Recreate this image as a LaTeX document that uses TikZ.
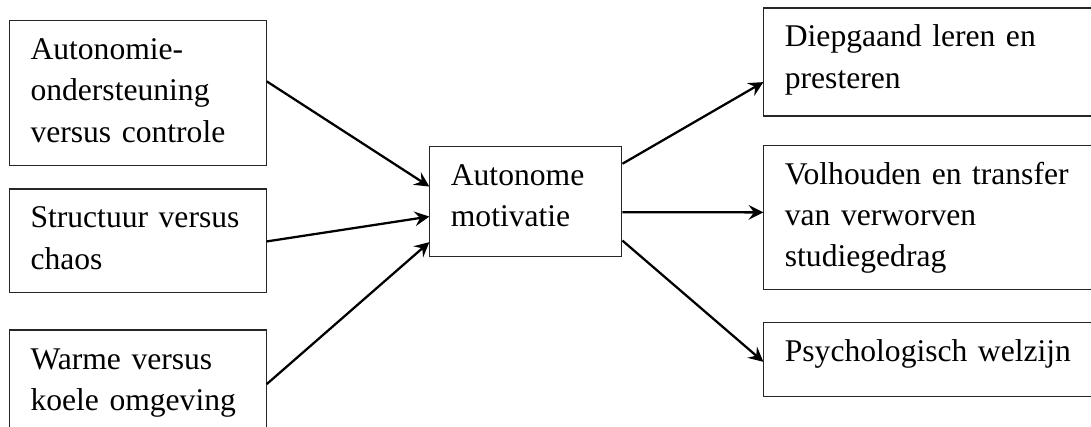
\documentclass[tikz,border=0pt]{standalone}
\usepackage{fontspec}
\setmainfont{Liberation Serif}
\usetikzlibrary{arrows.meta,positioning}

\begin{document}
\begin{tikzpicture}[
    box/.style={draw=black!85, line width=0.8pt,
      align=left, inner xsep=15.75pt, inner ysep=0pt, text height=29.25pt,
      font=\fontsize{23.7pt}{31pt}\selectfont},
    leftbox/.style={box, text width=161pt},
    midbox/.style={box, text width=112.5pt},
    rightbox/.style={box, text width=231pt},
    arrow/.style={-{Stealth[length=11pt, width=11pt, inset=4pt]}, line width=1.7pt}
  ]
  \useasboundingbox (0,0) rectangle (818.25pt,-320.25pt);

  % oorzaken
  \node[leftbox, anchor=north west, text depth=79.8pt] (auton) at (6.75pt,-15pt)
    {Autonomie-\\ondersteuning\\versus controle};
  \node[leftbox, text depth=48.2pt, below=16.5pt of auton] (struct)
    {Structuur versus\\chaos};
  \node[leftbox, text depth=57.5pt, below=27.5pt of struct] (warm)
    {Warme versus\\koele omgeving};

  % motivatie
  \node[midbox, anchor=north west, text depth=53pt] (motiv) at (322pt,-109.5pt)
    {Autonome\\motivatie};

  % gevolgen
  \node[rightbox, anchor=north west, text depth=51.75pt] (leren) at (572.5pt,-5.6pt)
    {Diepgaand leren en\\presteren};
  \node[rightbox, text depth=78.75pt, below=21.2pt of leren] (transfer)
    {Volhouden en transfer\\van verworven\\studiegedrag};
  \node[rightbox, text depth=26.25pt, below=24.3pt of transfer] (welzijn)
    {Psychologisch welzijn};

  \draw[arrow] ([yshift=8.9pt]auton.east) -- ([yshift=11.1pt]motiv.west);
  \draw[arrow] ([yshift=-0.6pt]struct.east) -- ([yshift=-11.4pt]motiv.west);
  \draw[arrow] ([yshift=2.8pt]warm.east) -- ([yshift=-30.6pt]motiv.west);
  \draw[arrow] ([yshift=28.2pt]motiv.east) -- ([yshift=-15.1pt]leren.west);
  \draw[arrow] ([yshift=-8.1pt]motiv.east) -- ([yshift=3.7pt]transfer.west);
  \draw[arrow] ([yshift=-29.4pt]motiv.east) -- ([yshift=-1.5pt]welzijn.west);
\end{tikzpicture}
\end{document}
